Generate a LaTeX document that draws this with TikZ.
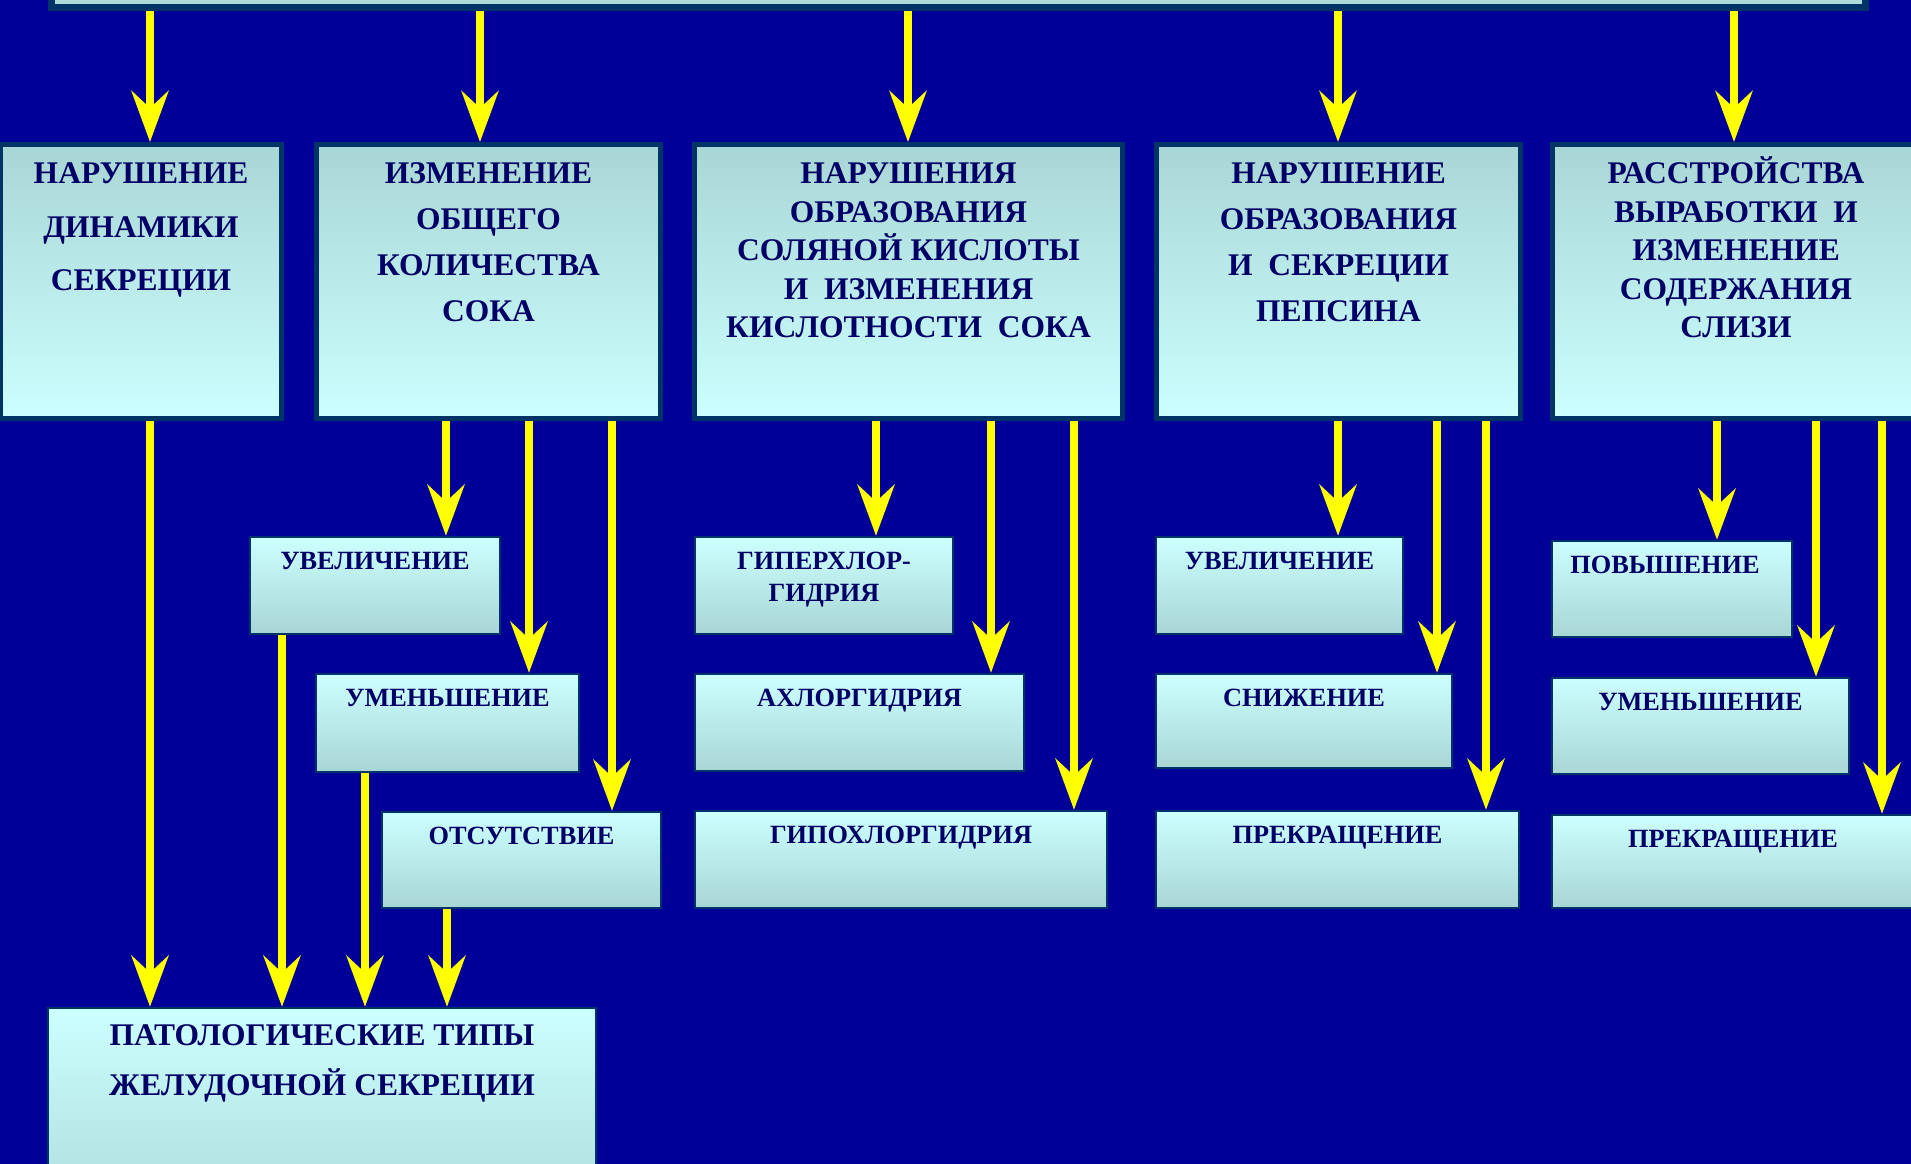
\documentclass[tikz,border=0pt]{standalone}
\usepackage{fontspec}
\setmainfont{Liberation Serif}[BoldFont={Liberation Serif Bold}]
\newfontfamily\boxfont{Liberation Serif Bold}
\usetikzlibrary{arrows.meta,fit}

\definecolor{bgblue}{RGB}{0,0,153}
\definecolor{rim}{RGB}{0,51,102}
\definecolor{paleC}{RGB}{204,255,255}
\definecolor{greyC}{RGB}{168,214,212}
\definecolor{ink}{RGB}{0,0,102}
\definecolor{arrowY}{RGB}{255,255,0}

% fixed-height strut so that the top of a text block sits one em above its first baseline
\newcommand\capstrut{\rule{0pt}{1em}}

\tikzset{
  bigbox/.style={draw=rim, line width=0.05cm, top color=greyC, bottom color=paleC, inner sep=0pt},
  smallbox/.style={draw=rim, line width=0.025cm, top color=paleC, bottom color=greyC, inner sep=0pt},
  headtxt/.style={anchor=north, inner sep=0pt, align=center, text=ink,
    font=\boxfont\fontsize{8.96pt}{#1}\selectfont, yshift=-0.095cm},
  subtxt/.style={anchor=north, inner sep=0pt, align=center, text=ink,
    font=\boxfont\fontsize{7.48pt}{9.1pt}\selectfont, yshift=-0.067cm},
  basetxt/.style={anchor=north, inner sep=0pt, align=center, text=ink,
    font=\boxfont\fontsize{8.96pt}{14.23pt}\selectfont, yshift=-0.065cm},
  flow/.style={draw=arrowY, line width=0.075cm,
    -{Stealth[length=0.51cm,width=0.37cm,inset=0.17cm]}},
}

\begin{document}
\begin{tikzpicture}[x=0.01cm,y=-0.01cm]
\clip (0,0) rectangle (1911,1164);
\fill[bgblue] (0,0) rectangle (1911,1164);

% header bar (mostly above the page edge)
\node[draw=rim, line width=0.07cm, fill=greyC!85!paleC, inner sep=0pt,
      fit={(51.5,-100) (1865.5,7.5)}] (top) {};

% first row of categories
\node[bigbox, fit={(0.5,144.5) (281.5,418.5)}] (b1) {};
\node[bigbox, fit={(316.5,144.5) (660.5,418.5)}] (b2) {};
\node[bigbox, fit={(694.5,144.5) (1122.5,418.5)}] (b3) {};
\node[bigbox, fit={(1156.5,144.5) (1520.5,418.5)}] (b4) {};
\node[bigbox, fit={(1552.5,144.5) (1919.5,418.5)}] (b5) {};

\node[headtxt=15.22pt] (b1t) at (b1.north) {\capstrut НАРУШЕНИЕ\\ДИНАМИКИ\\СЕКРЕЦИИ};
\node[headtxt=13.09pt] (b2t) at (b2.north) {\capstrut ИЗМЕНЕНИЕ\\ОБЩЕГО\\КОЛИЧЕСТВА\\СОКА};
\node[headtxt=10.95pt] (b3t) at (b3.north) {\capstrut НАРУШЕНИЯ\\ОБРАЗОВАНИЯ\\СОЛЯНОЙ КИСЛОТЫ\\И~~ИЗМЕНЕНИЯ\\КИСЛОТНОСТИ~~СОКА};
\node[headtxt=13.09pt] (b4t) at (b4.north) {\capstrut НАРУШЕНИЕ\\ОБРАЗОВАНИЯ\\И~~СЕКРЕЦИИ\\ПЕПСИНА};
\node[headtxt=10.95pt] (b5t) at (b5.north) {\capstrut РАССТРОЙСТВА\\ВЫРАБОТКИ~~И\\ИЗМЕНЕНИЕ\\СОДЕРЖАНИЯ\\СЛИЗИ};

% sub-categories
\node[smallbox, fit={(250,537) (500,634)}] (c2a) {};
\node[smallbox, fit={(316,674) (579,772)}] (c2b) {};
\node[smallbox, fit={(382,812) (661,908)}] (c2c) {};
\node[smallbox, fit={(695,537) (953,634)}] (c3a) {};
\node[smallbox, fit={(695,674) (1024,771)}] (c3b) {};
\node[smallbox, fit={(695,811) (1107,908)}] (c3c) {};
\node[smallbox, fit={(1156,537) (1403,634)}] (c4a) {};
\node[smallbox, fit={(1156,674) (1452,768)}] (c4b) {};
\node[smallbox, fit={(1156,811) (1519,908)}] (c4c) {};
\node[smallbox, fit={(1552,541) (1792,637)}] (c5a) {};
\node[smallbox, fit={(1552,678) (1849,774)}] (c5b) {};
\node[smallbox, fit={(1552,815) (1914,908)}] (c5c) {};

\node[subtxt] (c2at) at (c2a.north) {\capstrut УВЕЛИЧЕНИЕ};
\node[subtxt] (c2bt) at (c2b.north) {\capstrut УМЕНЬШЕНИЕ};
\node[subtxt] (c2ct) at (c2c.north) {\capstrut ОТСУТСТВИЕ};
\node[subtxt] (c3at) at (c3a.north) {\capstrut ГИПЕРХЛОР-\\ГИДРИЯ};
\node[subtxt] (c3bt) at (c3b.north) {\capstrut АХЛОРГИДРИЯ};
\node[subtxt] (c3ct) at (c3c.north) {\capstrut ГИПОХЛОРГИДРИЯ};
\node[subtxt] (c4at) at (c4a.north) {\capstrut УВЕЛИЧЕНИЕ};
\node[subtxt] (c4bt) at (c4b.north) {\capstrut СНИЖЕНИЕ};
\node[subtxt] (c4ct) at (c4c.north) {\capstrut ПРЕКРАЩЕНИЕ};
\node[subtxt, xshift=-0.07cm] (c5at) at (c5a.north) {\capstrut ПОВЫШЕНИЕ};
\node[subtxt] (c5bt) at (c5b.north) {\capstrut УМЕНЬШЕНИЕ};
\node[subtxt] (c5ct) at (c5c.north) {\capstrut ПРЕКРАЩЕНИЕ};

% summary box
\node[smallbox, fit={(48,1008) (596,1250)}] (pat) {};
\node[basetxt] (patt) at (pat.north) {\capstrut ПАТОЛОГИЧЕСКИЕ ТИПЫ\\ЖЕЛУДОЧНОЙ СЕКРЕЦИИ};

% vertical lanes of the connectors
\coordinate (L1) at (150,0);
\coordinate (L2) at (480,0);
\coordinate (L3) at (908,0);
\coordinate (L4) at (1338,0);
\coordinate (L5) at (1734,0);
\coordinate (L6) at (446,0);
\coordinate (L7) at (529,0);
\coordinate (L8) at (612,0);
\coordinate (L9) at (876,0);
\coordinate (L10) at (991,0);
\coordinate (L11) at (1074,0);
\coordinate (L12) at (1437,0);
\coordinate (L13) at (1486,0);
\coordinate (L14) at (1717,0);
\coordinate (L15) at (1816,0);
\coordinate (L16) at (1882,0);
\coordinate (L17) at (282,0);
\coordinate (L18) at (365,0);
\coordinate (L19) at (447,0);

% header to categories
\draw[flow] (top.south -| L1) -- (b1.north -| L1);
\draw[flow] (top.south -| L2) -- (b2.north -| L2);
\draw[flow] (top.south -| L3) -- (b3.north -| L3);
\draw[flow] (top.south -| L4) -- (b4.north -| L4);
\draw[flow] (top.south -| L5) -- (b5.north -| L5);

% categories to sub-categories
\draw[flow] (b2.south -| L6) -- (c2a.north -| L6);
\draw[flow] (b2.south -| L7) -- (c2b.north -| L7);
\draw[flow] (b2.south -| L8) -- (c2c.north -| L8);
\draw[flow] (b3.south -| L9) -- (c3a.north -| L9);
\draw[flow] (b3.south -| L10) -- (c3b.north -| L10);
\draw[flow] (b3.south -| L11) -- (c3c.north -| L11);
\draw[flow] (b4.south -| L4) -- (c4a.north -| L4);
\draw[flow] (b4.south -| L12) -- (c4b.north -| L12);
\draw[flow] (b4.south -| L13) -- (c4c.north -| L13);
\draw[flow] (b5.south -| L14) -- (c5a.north -| L14);
\draw[flow] (b5.south -| L15) -- (c5b.north -| L15);
\draw[flow] (b5.south -| L16) -- (c5c.north -| L16);

% into the summary box
\draw[flow] (b1.south -| L1) -- (pat.north -| L1);
\draw[flow] (c2a.south -| L17) -- (pat.north -| L17);
\draw[flow] (c2b.south -| L18) -- (pat.north -| L18);
\draw[flow] (c2c.south -| L19) -- (pat.north -| L19);
\end{tikzpicture}
\end{document}
